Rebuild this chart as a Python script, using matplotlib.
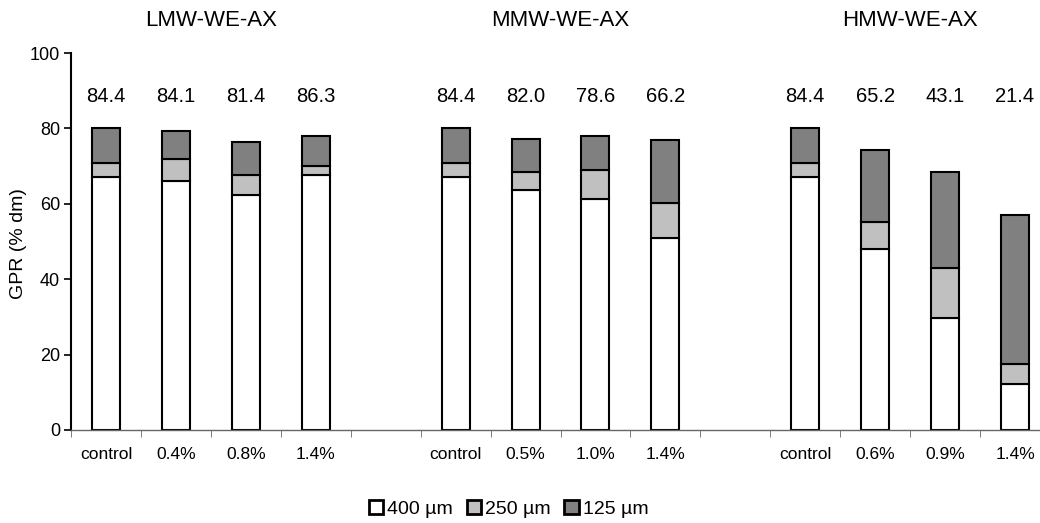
import matplotlib.pyplot as plt
import numpy as np

plt.rcParams['font.family'] = ['Liberation Sans', 'DejaVu Sans']

groups = ['LMW-WE-AX', 'MMW-WE-AX', 'HMW-WE-AX']
conc = [['control', '0.4%', '0.8%', '1.4%'],
        ['control', '0.5%', '1.0%', '1.4%'],
        ['control', '0.6%', '0.9%', '1.4%']]

# fractions (% dm)
p400 = [[67.2, 66.1, 62.4, 67.6],
        [67.2, 63.6, 61.4, 50.8],
        [67.2, 48.1, 29.7, 12.3]]
p250 = [[3.7, 5.9, 5.2, 2.4],
        [3.7, 4.9, 7.6, 9.5],
        [3.7, 7.1, 13.2, 5.3]]
p125 = [[9.1, 7.2, 8.9, 8.1],
        [9.1, 8.8, 9.1, 16.6],
        [9.1, 19.1, 25.6, 39.5]]
top_vals = [[84.4, 84.1, 81.4, 86.3],
            [84.4, 82.0, 78.6, 66.2],
            [84.4, 65.2, 43.1, 21.4]]

fig = plt.figure(figsize=(10.4, 5.23), dpi=100)
ax = fig.add_axes([71 / 1040, 1 - 430 / 523, 979 / 1040, 377 / 523])

colors = ['white', '#c0c0c0', '#808080']
names = ['400 µm', '250 µm', '125 µm']
w = 0.4
xt, xl = [], []
for g in range(len(groups)):
    x = np.arange(len(conc[g])) + g * 5
    a = np.array(p400[g])
    b = np.array(p250[g])
    c = np.array(p125[g])
    kw = dict(width=w, edgecolor='black', linewidth=1.5)
    ax.bar(x, a, color=colors[0], label=names[0] if g == 0 else None, **kw)
    ax.bar(x, b, bottom=a, color=colors[1], label=names[1] if g == 0 else None, **kw)
    ax.bar(x, c, bottom=a + b, color=colors[2], label=names[2] if g == 0 else None, **kw)
    for xi, v in zip(x, top_vals[g]):
        ax.text(xi, 88.4, '%.1f' % v, ha='center', va='center', fontsize=14.5)
    ax.text(x.mean(), 108.5, groups[g], ha='center', va='center', fontsize=16,
            clip_on=False)
    xt += list(x)
    xl += conc[g]

ax.set_xlim(-0.5, 13.5)
ax.set_ylim(0, 100)
ax.set_yticks(np.arange(0, 101, 20))
ax.set_xticks(xt)
ax.set_xticklabels(xl)
ax.set_xticks(np.arange(-0.5, 14, 1), minor=True)
ax.tick_params(axis='x', which='major', length=0, pad=12, labelsize=12.5)
ax.tick_params(axis='x', which='minor', length=5, direction='out', color='#666666')
ax.tick_params(axis='y', length=5, direction='out', width=1.2, labelsize=13, pad=3)
for s in ['top', 'right']:
    ax.spines[s].set_visible(False)
ax.spines['left'].set_linewidth(1.5)
ax.spines['bottom'].set_color('#666666')
ax.spines['bottom'].set_linewidth(1)

ax.set_ylabel('GPR (% dm)', fontsize=14)
ax.yaxis.set_label_coords(-0.045, 0.495)

leg = fig.legend(loc='center', bbox_to_anchor=(0.489, 0.027), ncol=3, frameon=False,
                 fontsize=14, handlelength=0.75, handleheight=0.75, handletextpad=0.2,
                 columnspacing=0.7)
for h in leg.legend_handles:
    h.set_linewidth(2)

fig.savefig('out.png', dpi=100)
